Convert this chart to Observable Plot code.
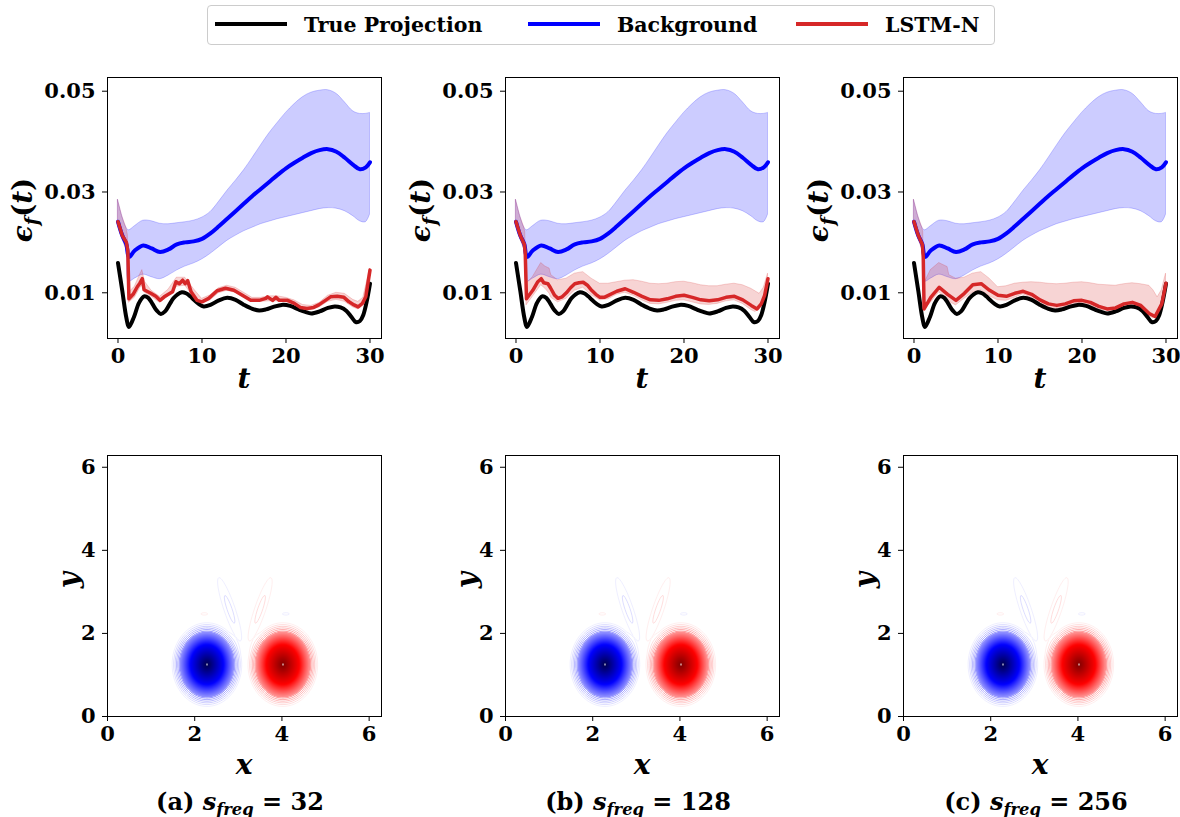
<!DOCTYPE html>
<html>
<head>
<meta charset="utf-8">
<script src="https://cdn.jsdelivr.net/npm/d3@7"></script>
<script src="https://cdn.jsdelivr.net/npm/@observablehq/plot@0.6"></script>
<style>
html,body{margin:0;padding:0;background:#fff;}
body{width:1180px;height:817px;position:relative;overflow:hidden;font-family:"DejaVu Serif",serif;color:#000;}
.abs{position:absolute;white-space:nowrap;line-height:1;font-weight:bold;}
sub{font-size:68%;vertical-align:-0.32em;line-height:0;}
svg{max-width:none !important;}
</style>
</head>
<body>
<script>
// ---------------- data ----------------
const seriesNames = ["True Projection", "Background", "LSTM-N"];
const seriesColors = ["#000000", "#0000ff", "#d62728"];
const captions = [["a", "32"], ["b", "128"], ["c", "256"]];
const tTicks = [0, 10, 20, 30];
const errTicks = [0.01, 0.03, 0.05];
const xyTicks = [0, 2, 4, 6];

// True projection error (same in all panels)
const tTrue = [0,0.5,1.0,1.3,1.9,2.5,3.1,3.6,4.1,4.6,5.1,5.6,6.1,6.6,7.1,7.6,8.1,8.6,9.1,9.6,10.2,11,12,13,14,15,16,16.8,17.6,18.5,19.5,20.5,21.5,22.3,23,24,25,25.8,26.5,27.2,27.8,28.3,28.8,29.2,29.6,30];
const trueProj = [0.0159,0.0105,0.0050,0.0032,0.0052,0.0080,0.0093,0.0090,0.0078,0.0065,0.0058,0.0063,0.0076,0.0089,0.0097,0.0101,0.0099,0.0093,0.0085,0.0078,0.0073,0.0076,0.0085,0.0090,0.0086,0.0076,0.0068,0.0065,0.0067,0.0072,0.0076,0.0074,0.0067,0.0062,0.0059,0.0063,0.0070,0.0073,0.0071,0.0064,0.0052,0.0042,0.0044,0.0056,0.0082,0.0118];

// Background (same in all panels)
const tBg = [0,0.5,1.0,1.3,2,3,4,5,6,7,8,9,10,11,12,13,14,15,16,17,18,19,20,21,22,23,24,25,26,27,28,28.8,29.5,30];
const bgMean = [0.0241,0.0214,0.0196,0.0171,0.0184,0.0194,0.0188,0.0181,0.0186,0.0196,0.0200,0.0202,0.0207,0.0218,0.0232,0.0247,0.0262,0.0277,0.0292,0.0306,0.0320,0.0334,0.0347,0.0358,0.0368,0.0377,0.0383,0.0385,0.0380,0.0368,0.0354,0.0345,0.0349,0.0359];
const bgLow = [0.0237,0.0208,0.0185,0.0122,0.0128,0.0136,0.0131,0.0127,0.0134,0.0144,0.0152,0.0158,0.0166,0.0177,0.0190,0.0203,0.0213,0.0222,0.0229,0.0236,0.0241,0.0246,0.0250,0.0254,0.0258,0.0262,0.0266,0.0268,0.0267,0.0262,0.0252,0.0242,0.0240,0.0255];
const bgHigh = [0.0284,0.0252,0.0229,0.0224,0.0232,0.0243,0.0242,0.0237,0.0236,0.0238,0.0240,0.0243,0.0249,0.0260,0.0280,0.0302,0.0322,0.0343,0.0367,0.0392,0.0416,0.0437,0.0457,0.0474,0.0488,0.0497,0.0501,0.0502,0.0495,0.0478,0.0460,0.0455,0.0455,0.0457];

// LSTM-N, s_freq = 32
const tR32 = [0,0.5,1.0,1.17,1.3,1.8,2.3,2.6,2.9,3.1,3.9,4.5,5.0,5.5,6.5,6.9,7.3,7.7,8.0,8.3,8.7,9.4,10,10.8,11.8,12.8,13.8,14.8,15.8,16.8,17.6,17.8,18.4,18.8,19.2,20.2,21,21.7,22.5,23.3,23.9,24.7,25.3,26.1,26.9,27.5,28.1,28.6,29.1,29.5,30];
const red32 = [0.0241,0.0214,0.0200,0.0184,0.0088,0.0097,0.0112,0.0119,0.0128,0.0106,0.0099,0.0093,0.0085,0.0092,0.0102,0.0122,0.0118,0.0125,0.0118,0.0124,0.0102,0.0085,0.0082,0.0089,0.0104,0.0109,0.0105,0.0095,0.0085,0.0085,0.0089,0.0092,0.0085,0.0091,0.0085,0.0085,0.0079,0.0071,0.0069,0.0071,0.0076,0.0085,0.0092,0.0093,0.0091,0.0082,0.0076,0.0072,0.0079,0.0092,0.0145];
const tB32 = [0,0.5,1.0,1.17,1.3,2,2.6,2.9,3.2,4,5,6,7,8,9,10,11,12,13,14,15,16,17,18,19,20,21,22,23,24,25,26,27,28,28.6,29.2,30];
const red32Low = [0.0237,0.0208,0.0185,0.0170,0.0080,0.0090,0.0108,0.0115,0.0100,0.0092,0.0080,0.0092,0.0112,0.0114,0.0092,0.0079,0.0085,0.0099,0.0104,0.0100,0.0091,0.0082,0.0082,0.0083,0.0083,0.0081,0.0076,0.0066,0.0066,0.0071,0.0082,0.0086,0.0082,0.0071,0.0067,0.0078,0.0140];
const red32High = [0.0284,0.0252,0.0229,0.0215,0.0100,0.0112,0.0135,0.0145,0.0122,0.0104,0.0092,0.0106,0.0130,0.0130,0.0108,0.0088,0.0095,0.0109,0.0114,0.0110,0.0100,0.0090,0.0090,0.0093,0.0093,0.0090,0.0085,0.0076,0.0074,0.0080,0.0094,0.0100,0.0098,0.0086,0.0082,0.0090,0.0148];

// LSTM-N, s_freq = 128
const tR128 = [0,0.5,1,1.1,1.25,2,2.6,3,3.3,3.8,4.1,4.6,5,5.5,6,6.5,7,7.5,8,8.5,9,9.5,10,10.5,11,12,13,14,15,16,17,18,19,20,21,22,23,24,25,26,27,28,28.7,29.2,29.6,30];
const red128 = [0.0241,0.0214,0.0196,0.0178,0.0088,0.0105,0.0122,0.0128,0.0120,0.0118,0.0110,0.0095,0.0089,0.0092,0.0100,0.0110,0.0118,0.0120,0.0121,0.0115,0.0105,0.0097,0.0091,0.0091,0.0095,0.0103,0.0108,0.0101,0.0093,0.0086,0.0085,0.0088,0.0093,0.0095,0.0091,0.0086,0.0084,0.0086,0.0091,0.0093,0.0086,0.0075,0.0068,0.0078,0.0095,0.0128];
const tB128 = [0,0.5,1.0,1.1,1.25,2,3,3.5,4,4.2,5,6,7,8,9,10,11,12,13,14,15,16,17,18,19,20,21,22,23,24,25,26,27,28,28.5,29,29.5,30];
const red128Low = [0.0237,0.0208,0.0185,0.0170,0.0075,0.0092,0.0115,0.0108,0.0098,0.0090,0.0081,0.0088,0.0104,0.0110,0.0095,0.0085,0.0087,0.0096,0.0100,0.0094,0.0085,0.0078,0.0077,0.0080,0.0084,0.0085,0.0081,0.0077,0.0076,0.0078,0.0083,0.0085,0.0078,0.0066,0.0062,0.0068,0.0085,0.0118];
const red128High = [0.0284,0.0252,0.0229,0.0220,0.0118,0.0131,0.0159,0.0152,0.0148,0.0135,0.0125,0.0128,0.0138,0.0141,0.0128,0.0118,0.0118,0.0121,0.0124,0.0125,0.0122,0.0118,0.0117,0.0118,0.0121,0.0122,0.0119,0.0115,0.0113,0.0113,0.0116,0.0118,0.0115,0.0108,0.0103,0.0098,0.0110,0.0138];

// LSTM-N, s_freq = 256
const tR256 = [0,0.5,1.0,1.1,1.2,2,3,4,5,6,7,8,9,10,11,12,13,14,15,16,17,18,19,20,21,22,23,24,25,26,27,28,28.7,29.5,30];
const red256 = [0.0241,0.0214,0.0196,0.0171,0.0068,0.0091,0.0111,0.0097,0.0085,0.0099,0.0116,0.0118,0.0105,0.0095,0.0093,0.0099,0.0103,0.0097,0.0086,0.0078,0.0075,0.0078,0.0084,0.0085,0.0081,0.0073,0.0068,0.0070,0.0078,0.0081,0.0075,0.0059,0.0053,0.0078,0.0119];
const tB256 = [0,0.5,1.0,1.1,1.2,2,3,4,4.2,5,6,7,8,9,10,11,12,13,14,15,16,17,18,19,20,21,22,23,24,25,26,27,28,28.5,29,29.5,30];
const red256Low = [0.0237,0.0208,0.0185,0.0165,0.0065,0.0080,0.0101,0.0087,0.0082,0.0075,0.0088,0.0100,0.0105,0.0093,0.0085,0.0084,0.0090,0.0097,0.0090,0.0078,0.0070,0.0068,0.0071,0.0076,0.0078,0.0074,0.0067,0.0064,0.0066,0.0072,0.0075,0.0068,0.0054,0.0049,0.0055,0.0072,0.0114];
const red256High = [0.0284,0.0252,0.0229,0.0220,0.0118,0.0145,0.0159,0.0151,0.0135,0.0128,0.0130,0.0138,0.0141,0.0128,0.0111,0.0113,0.0118,0.0120,0.0121,0.0120,0.0118,0.0117,0.0118,0.0120,0.0121,0.0119,0.0116,0.0115,0.0114,0.0117,0.0119,0.0117,0.0114,0.0105,0.0091,0.0105,0.0138];

// Vorticity snapshot: components
// (centre, peak amplitude, half-axes, tilt in degrees, profile exponent)
const vortexX = [2.28, 4.02, 2.80, 3.50, 2.22, 4.09];
const vortexY = [1.25, 1.25, 2.58, 2.58, 2.47, 2.47];
const vortexAmp = [-1, 1, -0.09, 0.09, 0.05, -0.05];
const vortexSa = [0.84, 0.84, 1.25, 1.25, 0.23, 0.23];
const vortexSb = [1.06, 1.06, 0.20, 0.20, 0.08, 0.08];
const vortexAngle = [0, 0, 108, 72, 0, 0];
const vortexPow = [1.15, 1.15, 1, 1, 1, 1];
const seismic = ["#00004c", "#0000ff", "#ffffff", "#ff0000", "#800000"];

// ---------------- layout ----------------
const SERIF = "'DejaVu Serif', serif";
const FW = 274, FH = 261;
const frameLefts = [107, 505, 903];
const topY = 77, botY = 455;
const M = {left: 110, right: 20, top: 10, bottom: 40};
const SW = M.left + FW + M.right, SH = M.top + FH + M.bottom;

function rows(ts, ...cols) {
  return ts.map((t, i) => { const r = {t}; cols.forEach((c, j) => r["v" + j] = c[i]); return r; });
}
function mount(svg, fl, ft) {
  const d = document.createElement("div");
  Object.assign(d.style, {position: "absolute", left: (fl - M.left) + "px", top: (ft - M.top) + "px", width: SW + "px", height: SH + "px"});
  svg.style.maxWidth = "none";
  d.appendChild(svg);
  document.body.appendChild(d);
}
function label(html, x, y, size, opts = {}) {
  const d = document.createElement("div");
  d.className = "abs";
  d.innerHTML = html;
  d.style.left = x + "px";
  d.style.top = y + "px";
  d.style.fontSize = size + "px";
  const tx = opts.anchor === "start" ? "0" : "-50%";
  d.style.transform = `translate(${tx},-50%) rotate(${opts.rotate || 0}deg)`;
  document.body.appendChild(d);
  return d;
}
const baseStyle = {fontFamily: SERIF, fontSize: "21px", fontWeight: "bold", color: "#000", background: "transparent", overflow: "visible"};

const redSets = [
  [tR32, red32, tB32, red32Low, red32High],
  [tR128, red128, tB128, red128Low, red128High],
  [tR256, red256, tB256, red256Low, red256High]
];

const trueRows = rows(tTrue, trueProj);
const bgRows = rows(tBg, bgMean, bgLow, bgHigh);

redSets.forEach(([tr, rv, tb, lo, hi], i) => {
  const redRows = rows(tr, rv);
  const bandRows = rows(tb, lo, hi);
  const svg = Plot.plot({
    width: SW, height: SH,
    marginLeft: M.left, marginRight: M.right, marginTop: M.top, marginBottom: M.bottom,
    style: baseStyle,
    x: {domain: [-1.25, 31.37], ticks: tTicks, tickSize: 5, tickPadding: 5, label: null},
    y: {domain: [0.00093, 0.05272], ticks: errTicks, tickFormat: d3.format(".2f"), tickSize: 5, tickPadding: 7, label: null},
    marks: [
      Plot.areaY(bgRows, {x: "t", y1: "v1", y2: "v2", curve: "catmull-rom", fill: seriesColors[1], fillOpacity: 0.2, stroke: seriesColors[1], strokeOpacity: 0.2, strokeWidth: 1}),
      Plot.areaY(bandRows, {x: "t", y1: "v0", y2: "v1", curve: "linear", fill: seriesColors[2], fillOpacity: 0.2, stroke: seriesColors[2], strokeOpacity: 0.2, strokeWidth: 1}),
      Plot.line(trueRows, {x: "t", y: "v0", curve: "catmull-rom", stroke: seriesColors[0], strokeWidth: 4}),
      Plot.line(bgRows, {x: "t", y: "v0", curve: "catmull-rom", stroke: seriesColors[1], strokeWidth: 4}),
      Plot.line(redRows, {x: "t", y: "v0", curve: "linear", stroke: seriesColors[2], strokeWidth: 3.5}),
      Plot.frame({stroke: "#000", strokeWidth: 1})
    ]
  });
  mount(svg, frameLefts[i], topY);
  const cx = frameLefts[i] + FW / 2;
  label("<i>t</i>", cx, 379, 28);
  label("<i>ϵ</i><sub><i>f</i></sub>(<i>t</i>)", frameLefts[i] - 84, 210, 28, {rotate: -90});
});

// vorticity field model built from the component arrays
function field(x, y) {
  let s = 0;
  for (let k = 0; k < vortexX.length; k++) {
    const a = vortexAngle[k] * Math.PI / 180;
    const dx = x - vortexX[k], dy = y - vortexY[k];
    const u = (dx * Math.cos(a) + dy * Math.sin(a)) / vortexSa[k];
    const v = (-dx * Math.sin(a) + dy * Math.cos(a)) / vortexSb[k];
    const rho = Math.sqrt(u * u + v * v);
    if (rho < 1) s += vortexAmp[k] * Math.pow(1 - rho, vortexPow[k]);
  }
  return s;
}
const NL = 30;
const levels = [];
for (let k = -NL; k <= NL; k++) if (k !== 0) levels.push(k / (NL + 1));
const CORE = 0.2; // dense inner contours rendered as a continuous raster

for (let i = 0; i < 3; i++) {
  const svg = Plot.plot({
    width: SW, height: SH,
    marginLeft: M.left, marginRight: M.right, marginTop: M.top, marginBottom: M.bottom,
    style: baseStyle,
    x: {domain: [0, 2 * Math.PI], ticks: xyTicks, tickFormat: d3.format("d"), tickSize: 5, tickPadding: 5, label: null},
    y: {domain: [0, 2 * Math.PI], ticks: xyTicks, tickFormat: d3.format("d"), tickSize: 5, tickPadding: 7, label: null},
    color: {type: "linear", domain: [-1, -0.5, 0, 0.5, 1], range: seismic},
    marks: [
      Plot.raster({x1: 0, y1: 0, x2: 2 * Math.PI, y2: 2 * Math.PI, pixelSize: 1,
        fill: (x, y) => { const v = field(x, y); return Math.abs(v) >= CORE && Math.abs(v) < 0.975 ? v : NaN; }}),
      Plot.contour({x1: 0, y1: 0, x2: 2 * Math.PI, y2: 2 * Math.PI, value: field, thresholds: levels.filter(l => Math.abs(l) < CORE + 0.05), stroke: "value", fill: "none", strokeWidth: 1, pixelSize: 1}),
      Plot.frame({stroke: "#000", strokeWidth: 1})
    ]
  });
  mount(svg, frameLefts[i], botY);
  const cx = frameLefts[i] + FW / 2;
  label("<i>x</i>", cx, 765, 28);
  label("<i>y</i>", frameLefts[i] - 38, 580, 28, {rotate: -90});
  label(`(${captions[i][0]}) <i>s</i><sub><i>freq</i></sub> = ${captions[i][1]}`, cx - 4, 802, 24);
}

// legend
const box = document.createElement("div");
Object.assign(box.style, {position: "absolute", left: "207px", top: "5px", width: "788px", height: "40px", border: "1px solid #cccccc", borderRadius: "4px", boxSizing: "border-box", background: "#fff"});
document.body.appendChild(box);
const swatchX = [215, 528, 796];
const textX = [304, 617, 885];
seriesNames.forEach((n, i) => {
  const s = document.createElement("div");
  Object.assign(s.style, {position: "absolute", left: swatchX[i] + "px", top: "22px", width: "72px", height: "4px", background: seriesColors[i]});
  document.body.appendChild(s);
  label(n, textX[i], 25, 20.5, {anchor: "start"});
});
</script>
</body>
</html>
